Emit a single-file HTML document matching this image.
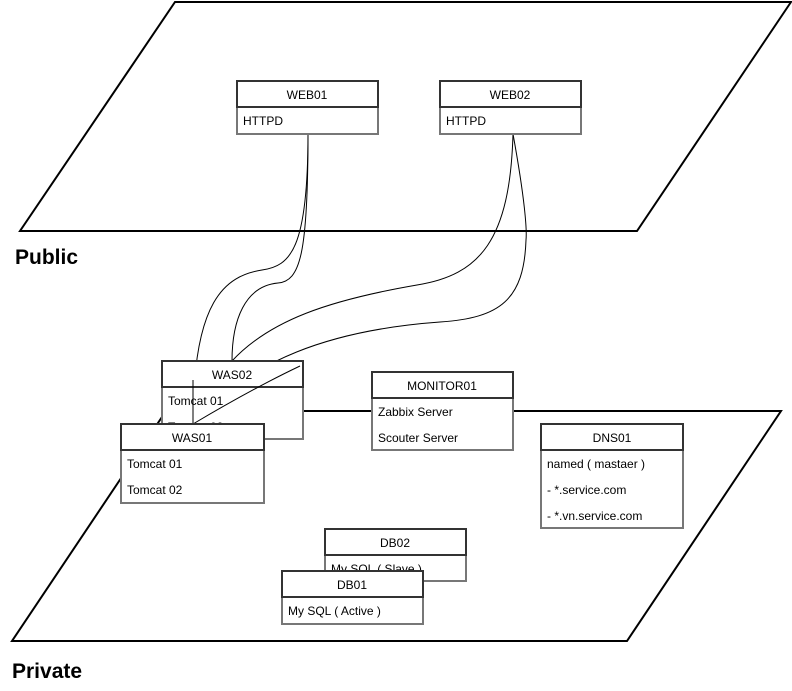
<!DOCTYPE html>
<html><head><meta charset="utf-8"><style>
body{margin:0;background:#fff;}
svg{display:block;font-family:"Liberation Sans",Helvetica,Arial,sans-serif;}
</style></head><body>
<svg width="792" height="691" viewBox="0 0 792 691" xmlns="http://www.w3.org/2000/svg">
<polygon points="175,2 791,2 637,231 20,231" fill="#fff" stroke="#000" stroke-width="2"/>
<polygon points="166,411 781,411 627,641 12,641" fill="#fff" stroke="#000" stroke-width="2"/>
<text x="15" y="264" font-size="21" font-weight="bold">Public</text>
<text x="12" y="678" font-size="21" font-weight="bold">Private</text>

<g fill="none" stroke="#000" stroke-width="1">
<path d="M308,134 C308,250 290,266 262,270 C225,276 193,300 193,424"/>
<path d="M308,134 C308,255 300,281 278,283 C245,286 232,320 232,361"/>
<path d="M513,134 C510,240 480,275 417,285 C330,300 270,320 232,361"/>
<path d="M513,134 C525,200 527,230 526,240 C524,300 500,318 440,322 C330,330 250,360 193,424"/>
</g>

<g font-size="12" text-anchor="middle">
<!-- WEB01 -->
<rect x="237" y="107" width="141" height="27" fill="#fff" stroke="#777" stroke-width="2"/>
<rect x="237" y="81" width="141" height="26" fill="#fff" stroke="#333" stroke-width="2"/>
<text x="307" y="99">WEB01</text><text x="243" y="125" text-anchor="start">HTTPD</text>
<!-- WEB02 -->
<rect x="440" y="107" width="141" height="27" fill="#fff" stroke="#777" stroke-width="2"/>
<rect x="440" y="81" width="141" height="26" fill="#fff" stroke="#333" stroke-width="2"/>
<text x="510" y="99">WEB02</text><text x="446" y="125" text-anchor="start">HTTPD</text>
</g>

<g fill="none" stroke="#000" stroke-width="1">
</g>

<g font-size="12" text-anchor="middle">
<!-- WAS02 -->
<rect x="162" y="387" width="141" height="52" fill="#fff" stroke="#777" stroke-width="2"/>
<rect x="162" y="361" width="141" height="26" fill="#fff" stroke="#333" stroke-width="2"/>
<text x="232" y="379">WAS02</text>
<text x="168" y="405" text-anchor="start">Tomcat 01</text>
<text x="168" y="431" text-anchor="start">Tomcat 02</text>
</g>
<g fill="none" stroke="#000" stroke-width="1">
<path d="M193,380 C193,400 193,410 193,424"/>
<path d="M300,366 C260,385 225,405 193,424"/>
</g>
<g font-size="12" text-anchor="middle">
<!-- WAS01 -->
<rect x="121" y="450" width="143" height="53" fill="#fff" stroke="#777" stroke-width="2"/>
<rect x="121" y="424" width="143" height="26" fill="#fff" stroke="#333" stroke-width="2"/>
<text x="192" y="442">WAS01</text>
<text x="127" y="468" text-anchor="start">Tomcat 01</text>
<text x="127" y="494" text-anchor="start">Tomcat 02</text>
<!-- MONITOR01 -->
<rect x="372" y="398" width="141" height="52" fill="#fff" stroke="#777" stroke-width="2"/>
<rect x="372" y="372" width="141" height="26" fill="#fff" stroke="#333" stroke-width="2"/>
<text x="442" y="390">MONITOR01</text>
<text x="378" y="416" text-anchor="start">Zabbix Server</text>
<text x="378" y="442" text-anchor="start">Scouter Server</text>
<!-- DNS01 -->
<rect x="541" y="450" width="142" height="78" fill="#fff" stroke="#777" stroke-width="2"/>
<rect x="541" y="424" width="142" height="26" fill="#fff" stroke="#333" stroke-width="2"/>
<text x="612" y="442">DNS01</text>
<text x="547" y="468" text-anchor="start">named ( mastaer )</text>
<text x="547" y="494" text-anchor="start">- *.service.com</text>
<text x="547" y="520" text-anchor="start">- *.vn.service.com</text>
<!-- DB02 -->
<rect x="325" y="555" width="141" height="26" fill="#fff" stroke="#777" stroke-width="2"/>
<rect x="325" y="529" width="141" height="26" fill="#fff" stroke="#333" stroke-width="2"/>
<text x="395" y="547">DB02</text>
<text x="331" y="573" text-anchor="start">My SQL ( Slave )</text>
<!-- DB01 -->
<rect x="282" y="597" width="141" height="27" fill="#fff" stroke="#777" stroke-width="2"/>
<rect x="282" y="571" width="141" height="26" fill="#fff" stroke="#333" stroke-width="2"/>
<text x="352" y="589">DB01</text>
<text x="288" y="615" text-anchor="start">My SQL ( Active )</text>
</g>
</svg>
</body></html>
